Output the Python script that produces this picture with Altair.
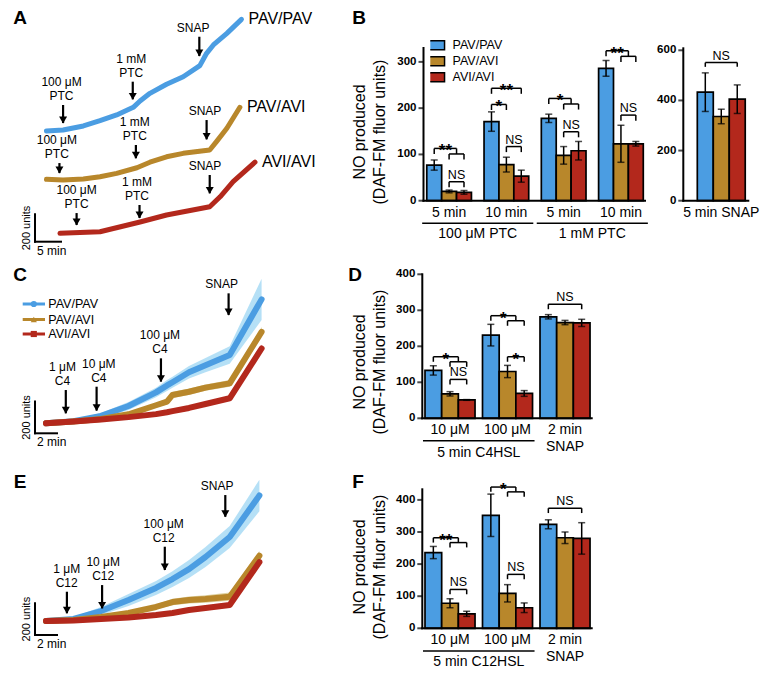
import altair as alt
import pandas as pd

FONT = "Liberation Sans"
SERIES = ["PAV/PAV", "PAV/AVI", "AVI/AVI"]
COLORS = ["#4b9de2", "#b8872b", "#b3281c"]
BAND_COLORS = ["#a8daf4", "#d8c98f", "#f2a8d8"]
LEGEND_SHAPES = ["circle", "triangle-up", "square"]

# ---------------- Panel A : single traces (min, fluorescence units, traces offset) -------------
A_PAVPAV_T = [2.2, 5.4, 9.3, 12.5, 15.7, 18.9, 20.2, 22.1, 25.3, 28.5, 31.7, 33.0, 34.3, 36.9, 39.7]
A_PAVPAV_U = [808, 815, 845, 883, 925, 981, 1027, 1083, 1149, 1204, 1285, 1375, 1436, 1521, 1623]
A_PAVAVI_T = [2.2, 5.4, 9.3, 12.5, 15.7, 19.6, 22.1, 25.3, 28.5, 33.6, 34.9, 36.9, 39.4]
A_PAVAVI_U = [455, 450, 458, 474, 499, 540, 580, 620, 645, 669, 730, 828, 981]
A_AVIAVI_T = [4.8, 12.5, 20.2, 25.3, 33.6, 35.6, 38.1, 42.3]
A_AVIAVI_U = [61, 73, 144, 195, 255, 328, 438, 580]
A_ARROW_T = [5.4, 18.8, 31.6, 4.7, 19.4, 33.0, 8.0, 20.1, 33.6]
A_ARROW_TIP = [866, 1039, 1355, 501, 609, 747, 122, 173, 353]
A_ARROW_TOP = [998, 1168, 1496, 574, 706, 888, 209, 268, 487]
A_LABEL_T = [5.1, 18.5, 30.4, 4.2, 19.2, 32.7, 8.0, 19.6, 32.7]
A_ARROW_LINE1 = ["100 μM", "1 mM", ""] * 3
A_ARROW_LINE2 = ["PTC", "PTC", "SNAP"] * 3
A_SCALEBAR = (5, 200, "5 min")

# ---------------- Panel C : C4HSL mean traces with SEM band ----------------
C_T = [1, 3.5, 6, 8.5, 11, 12, 12.5, 14, 15.5, 17.7, 20.6]
C_PAVPAV = [63, 76, 110, 172, 258, 302, 322, 385, 430, 494, 845]
C_PAVPAV_SEM = [5, 10, 18, 25, 30, 35, 35, 40, 45, 55, 130]
C_PAVAVI = [63, 75, 90, 120, 177, 200, 242, 262, 288, 315, 640]
C_PAVAVI_SEM = [5, 6, 8, 12, 15, 18, 20, 20, 20, 22, 30]
C_AVIAVI = [63, 75, 87, 102, 121, 133, 140, 160, 185, 221, 535]
C_AVIAVI_SEM = [3, 4, 5, 6, 8, 10, 10, 12, 12, 15, 25]
C_ARROW_T = [2.8, 5.6, 11.45, 17.6]
C_ARROW_TIP = [126, 143, 326, 746]
C_ARROW_TOP = [273, 294, 473, 883]
C_LABEL_T = [2.5, 5.8, 11.36, 16.97]
C_ARROW_LINE1 = ["1 μM", "10 μM", "100 μM", ""]
C_ARROW_LINE2 = ["C4", "C4", "C4", "SNAP"]
C_SCALEBAR = (2, 200, "2 min")

# ---------------- Panel E : C12HSL mean traces with SEM band ----------------
E_T = [1, 3.5, 6, 8.5, 11, 12.5, 14, 15.5, 17.7, 20.4]
E_PAVPAV = [88, 101, 151, 221, 297, 353, 416, 492, 618, 880]
E_PAVPAV_SEM = [6, 13, 25, 38, 44, 50, 57, 63, 69, 100]
E_PAVAVI = [88, 95, 114, 139, 177, 208, 221, 227, 242, 500]
E_PAVAVI_SEM = [4, 6, 8, 12, 15, 20, 22, 24, 26, 30]
E_AVIAVI = [88, 91, 101, 110, 126, 139, 158, 170, 189, 460]
E_AVIAVI_SEM = [3, 4, 5, 6, 8, 9, 10, 10, 12, 15]
E_ARROW_T = [2.9, 6.1, 11.8, 17.3]
E_ARROW_TIP = [137, 168, 410, 746]
E_ARROW_TOP = [273, 315, 557, 883]
E_LABEL_T = [2.88, 6.2, 11.7, 16.55]
E_ARROW_LINE1 = ["1 μM", "10 μM", "100 μM", ""]
E_ARROW_LINE2 = ["C12", "C12", "C12", "SNAP"]
E_SCALEBAR = (2, 200, "2 min")

# ---------------- Panel B : NO produced, PTC ----------------
B_GROUPS = ["5 min", "10 min", "5 min", "10 min"]
B_PAVPAV = [77, 171, 178, 286]
B_PAVPAV_ERR = [11, 21, 9, 17]
B_PAVAVI = [20, 78, 98, 123]
B_PAVAVI_ERR = [3, 16, 19, 40]
B_AVIAVI = [18, 53, 108, 123]
B_AVIAVI_ERR = [4, 13, 20, 5]
B_YTICKS = [0, 100, 200, 300]
B_SUB = [("100 μM PTC", 0.5), ("1 mM PTC", 2.5)]
B_BRACKETS = [(0, "nested", 0, 0, 113, "**"), (0, "simple", 1, 2, 41, "NS"),
              (1, "simple", 0, 2, 243, "**"), (1, "simple", 0, 1, 208, "*"),
              (1, "simple", 1, 2, 117, "NS"), (2, "nested", 0, 0, 221, "*"),
              (2, "simple", 1, 2, 149, "NS"), (3, "nested", 0, 0, 324, "**"),
              (3, "simple", 1, 2, 185, "NS")]

SNAP_GROUPS = ["5 min SNAP"]
SNAP_PAVPAV = [433]
SNAP_PAVPAV_ERR = [77]
SNAP_PAVAVI = [336]
SNAP_PAVAVI_ERR = [29]
SNAP_AVIAVI = [405]
SNAP_AVIAVI_ERR = [57]
SNAP_YTICKS = [0, 200, 400, 600]
SNAP_BRACKETS = [(0, "simple", 0, 2, 551, "NS")]

# ---------------- Panel D : C4HSL ----------------
D_GROUPS = ["10 μM", "100 μM", "2 min"]
D_GROUP_LINE2 = [(2, "SNAP")]
D_PAVPAV = [133, 231, 282]
D_PAVPAV_ERR = [13, 30, 6]
D_PAVAVI = [68, 130, 266]
D_PAVAVI_ERR = [6, 17, 6]
D_AVIAVI = [51, 69, 265]
D_AVIAVI_ERR = [1, 8, 10]
D_YTICKS = [0, 100, 200, 300, 400]
D_SUB = [("5 min C4HSL", 0.5)]
D_BRACKETS = [(0, "nested", 0, 0, 171, "*"), (0, "simple", 1, 2, 108, "NS"),
              (1, "nested", 0, 0, 285, "*"), (1, "simple", 1, 2, 171, "*"),
              (2, "simple", 0, 2, 317, "NS")]

# ---------------- Panel F : C12HSL ----------------
F_GROUPS = ["10 μM", "100 μM", "2 min"]
F_GROUP_LINE2 = [(2, "SNAP")]
F_PAVPAV = [236, 352, 324]
F_PAVPAV_ERR = [19, 66, 14]
F_PAVAVI = [78, 109, 282]
F_PAVAVI_ERR = [14, 27, 18]
F_AVIAVI = [45, 64, 280]
F_AVIAVI_ERR = [8, 15, 49]
F_YTICKS = [0, 100, 200, 300, 400]
F_SUB = [("5 min C12HSL", 0.5)]
F_BRACKETS = [(0, "nested", 0, 0, 282, "**"), (0, "simple", 1, 2, 121, "NS"),
              (1, "nested", 0, 0, 440, "*"), (1, "simple", 1, 2, 168, "NS"),
              (2, "simple", 0, 2, 374, "NS")]

YTITLE = ["NO produced", "(DAF-FM fluor units)"]

W, H = 764, 661
CSCALE = alt.Scale(domain=SERIES, range=COLORS)
RECT_PATH = "M-1.6,-0.9H1.6V0.9H-1.6Z"


def lin(domain, rng):
    return alt.Scale(domain=domain, range=rng, nice=False, zero=False)


# ======================= trace panels =======================
def trace_df(times, vals, sems=None):
    rows = []
    for si, s in enumerate(SERIES):
        for k, (t, u) in enumerate(zip(times[si], vals[si])):
            r = dict(series=s, t=t, u=u, k=k)
            if sems is not None:
                r["lo"] = u - sems[si][k]
                r["hi"] = u + sems[si][k]
            rows.append(r)
    return pd.DataFrame(rows)


def trace_panel(df, xs, ys, arrows, scalebar, lw, band=False, end_labels=False):
    def X(f):
        return alt.X(f, scale=xs, axis=None)

    def Y(f):
        return alt.Y(f, scale=ys, axis=None, stack=None)

    layers = []
    if band:
        layers.append(alt.Chart(df).mark_area(opacity=0.85).encode(
            x=X("t:Q"), y=Y("lo:Q"), y2="hi:Q",
            fill=alt.Fill("series:N", scale=alt.Scale(domain=SERIES, range=BAND_COLORS), legend=None)))
    layers.append(alt.Chart(df).mark_line(strokeWidth=lw, strokeJoin="round", strokeCap="round").encode(
        x=X("t:Q"), y=Y("u:Q"), color=alt.Color("series:N", scale=CSCALE, legend=None), order="k:Q"))
    if end_labels:
        last = df.sort_values("k").groupby("series", sort=False).tail(1)
        layers.append(alt.Chart(last).mark_text(font=FONT, fontSize=16, align="left", baseline="middle",
                                                dx=7, color="black").encode(
            x=X("t:Q"), y=Y("u:Q"), text="series:N"))
    adf = pd.DataFrame({"t": arrows[0], "tip": arrows[1], "top": arrows[2], "lt": arrows[3],
                        "l1": arrows[4], "l2": arrows[5]})
    layers.append(alt.Chart(adf).mark_rule(color="black", strokeWidth=2.2).encode(
        x=X("t:Q"), y=Y("top:Q"), y2="tip:Q"))
    layers.append(alt.Chart(adf).mark_point(shape="triangle-down", filled=True, size=64, color="black",
                                            opacity=1, yOffset=-3).encode(x=X("t:Q"), y=Y("tip:Q")))
    layers.append(alt.Chart(adf).mark_text(font=FONT, fontSize=12, baseline="bottom", align="center",
                                           dy=-2, color="black").encode(
        x=X("lt:Q"), y=Y("top:Q"), text="l2:N"))
    layers.append(alt.Chart(adf).mark_text(font=FONT, fontSize=12, baseline="bottom", align="center",
                                           dy=-16, color="black").encode(
        x=X("lt:Q"), y=Y("top:Q"), text="l1:N"))
    sb_t, sb_u, sb_lab = scalebar
    sbdf = pd.DataFrame({"x": [0, 0], "x2": [0, sb_t], "y": [0, 0], "y2": [sb_u, 0]})
    layers.append(alt.Chart(sbdf).mark_rule(color="black", strokeWidth=2, strokeCap="square").encode(
        x=X("x:Q"), x2="x2:Q", y=Y("y:Q"), y2="y2:Q"))
    sbt = pd.DataFrame({"x": [0], "y": [sb_u / 2], "lab": [f"{sb_u} units"]})
    layers.append(alt.Chart(sbt).mark_text(font=FONT, fontSize=11, angle=270, baseline="bottom",
                                           align="center", dy=-3, color="black").encode(
        x=X("x:Q"), y=Y("y:Q"), text="lab:N"))
    sbt2 = pd.DataFrame({"x": [0], "y": [0], "lab": [sb_lab]})
    layers.append(alt.Chart(sbt2).mark_text(font=FONT, fontSize=12, align="left", baseline="top",
                                            dx=2, dy=4, color="black").encode(
        x=X("x:Q"), y=Y("y:Q"), text="lab:N"))
    return alt.layer(*layers)


# ======================= bar panels =======================
def bar_panel(vals, errs, w, xdom, xrng, ydom, yrng, groups, yticks, brackets, d, legend=None,
              sub=None, sub_y=None, line2=None, line2_y=None, title_y=None):
    xs, ys = lin(xdom, xrng), lin(ydom, yrng)
    rows = []
    for si, s in enumerate(SERIES):
        for gi, (v, e) in enumerate(zip(vals[si], errs[si])):
            pos = gi + (si - 1) * w
            rows.append(dict(series=s, v=v, zero=0, lo=v - e, hi=v + e, pos=pos,
                             x0=pos - w / 2, x1=pos + w / 2))
    df = pd.DataFrame(rows)

    def X(f):
        return alt.X(f, scale=xs, axis=None)

    def Y(f):
        return alt.Y(f, scale=ys, axis=None)

    layers = [
        alt.Chart(df).mark_bar(stroke="black", strokeWidth=1.7).encode(
            x=X("x0:Q"), x2="x1:Q", y=Y("v:Q"), y2="zero:Q",
            color=alt.Color("series:N", scale=CSCALE, legend=legend)),
        alt.Chart(df).mark_rule(color="black", strokeWidth=1.5).encode(x=X("pos:Q"), y=Y("lo:Q"), y2="hi:Q"),
        alt.Chart(df).mark_tick(color="black", orient="horizontal", size=7, thickness=1.5).encode(
            x=X("pos:Q"), y=Y("lo:Q")),
        alt.Chart(df).mark_tick(color="black", orient="horizontal", size=7, thickness=1.5).encode(
            x=X("pos:Q"), y=Y("hi:Q")),
    ]
    # ---- axes drawn through the panel scales ----
    adf = pd.DataFrame({"x0": [xdom[0]], "x1": [xdom[1]], "y0": [0], "y1": [ydom[1]]})
    layers.append(alt.Chart(adf).mark_rule(color="black", strokeWidth=2, strokeCap="square").encode(
        x=X("x0:Q"), y=Y("y0:Q"), y2="y1:Q"))
    layers.append(alt.Chart(adf).mark_rule(color="black", strokeWidth=2, strokeCap="square").encode(
        x=X("x0:Q"), x2="x1:Q", y=Y("y0:Q")))
    tdf = pd.DataFrame({"x": [xdom[0]] * len(yticks), "y": yticks, "lab": [str(t) for t in yticks]})
    layers.append(alt.Chart(tdf).mark_tick(color="black", orient="horizontal", size=5, thickness=2,
                                           xOffset=-2.5).encode(x=X("x:Q"), y=Y("y:Q")))
    layers.append(alt.Chart(tdf).mark_text(font=FONT, fontSize=11.5, fontWeight="bold", align="right",
                                           baseline="middle", dx=-7, color="black").encode(
        x=X("x:Q"), y=Y("y:Q"), text="lab:N"))
    gdf = pd.DataFrame({"g": list(range(len(groups))), "y": [0] * len(groups), "lab": groups})
    layers.append(alt.Chart(gdf).mark_text(font=FONT, fontSize=14, align="center", baseline="top",
                                           dy=5, color="black").encode(
        x=X("g:Q"), y=Y("y:Q"), text="lab:N"))
    if title_y is not None:
        for line, xpx in zip(YTITLE, [352, 372]):
            layers.append(alt.Chart(pd.DataFrame({"lab": [line]})).mark_text(
                font=FONT, fontSize=16, angle=270, align="center", baseline="middle", color="black").encode(
                x=alt.value(xpx), y=alt.value(title_y), text="lab:N"))
    # ---- significance brackets ----
    segs, labs = [], []
    for g, kind, i, j, h, lab in brackets:
        def c(s):
            return g + (s - 1) * w
        if kind == "nested":
            a, b1, b2 = c(0), c(1), c(2)
            m = (b1 + b2) / 2
            segs += [(a, m, h, h), (a, a, h, h - d), (m, m, h, h - d), (b1, b2, h - d, h - d),
                     (b1, b1, h - d, h - 2 * d), (b2, b2, h - d, h - 2 * d)]
            labs.append((lab, (a + m) / 2, h))
        else:
            a, b = c(i), c(j)
            segs += [(a, b, h, h), (a, a, h, h - d), (b, b, h, h - d)]
            labs.append((lab, (a + b) / 2, h))
    sdf = pd.DataFrame(segs, columns=["x", "x2", "y", "y2"])
    ldf = pd.DataFrame(labs, columns=["lab", "x", "y"])
    layers.append(alt.Chart(sdf).mark_rule(color="black", strokeWidth=1.5).encode(
        x=X("x:Q"), x2="x2:Q", y=Y("y:Q"), y2="y2:Q"))
    layers.append(alt.Chart(ldf).transform_filter("datum.lab != 'NS'").mark_text(
        font=FONT, fontSize=17, fontWeight="bold", baseline="alphabetic", dy=8, color="black").encode(
        x=X("x:Q"), y=Y("y:Q"), text="lab:N"))
    layers.append(alt.Chart(ldf).transform_filter("datum.lab == 'NS'").mark_text(
        font=FONT, fontSize=12.5, baseline="alphabetic", dy=-3, color="black").encode(
        x=X("x:Q"), y=Y("y:Q"), text="lab:N"))
    if sub:
        half = 0.97
        udf = pd.DataFrame({"lab": [s[0] for s in sub], "c": [s[1] for s in sub],
                            "c0": [s[1] - half for s in sub], "c1": [s[1] + half for s in sub]})
        layers.append(alt.Chart(udf).mark_rule(color="black", strokeWidth=1.5).encode(
            x=X("c0:Q"), x2="c1:Q", y=alt.value(sub_y[0])))
        layers.append(alt.Chart(udf).mark_text(font=FONT, fontSize=14, baseline="middle", color="black").encode(
            x=X("c:Q"), y=alt.value(sub_y[1]), text="lab:N"))
    if line2:
        l2df = pd.DataFrame({"g": [p[0] for p in line2], "lab": [p[1] for p in line2]})
        layers.append(alt.Chart(l2df).mark_text(font=FONT, fontSize=14, baseline="middle", color="black").encode(
            x=X("g:Q"), y=alt.value(line2_y), text="lab:N"))
    return alt.layer(*layers)


# ---- build panels (chart coordinates, plot area = whole figure) ----
panelA = trace_panel(
    trace_df([A_PAVPAV_T, A_PAVAVI_T, A_AVIAVI_T], [A_PAVPAV_U, A_PAVAVI_U, A_AVIAVI_U]),
    lin([0, 45], [27, 261]), lin([0, 1700], [233.7, 0.8]),
    (A_ARROW_T, A_ARROW_TIP, A_ARROW_TOP, A_LABEL_T, A_ARROW_LINE1, A_ARROW_LINE2), A_SCALEBAR, 5,
    end_labels=True)

panelC = trace_panel(
    trace_df([C_T] * 3, [C_PAVPAV, C_PAVAVI, C_AVIAVI], [C_PAVPAV_SEM, C_PAVAVI_SEM, C_AVIAVI_SEM]),
    lin([0, 22], [27, 269]), lin([0, 1000], [425.3, 266.8]),
    (C_ARROW_T, C_ARROW_TIP, C_ARROW_TOP, C_LABEL_T, C_ARROW_LINE1, C_ARROW_LINE2), C_SCALEBAR, 6, band=True)

panelE = trace_panel(
    trace_df([E_T] * 3, [E_PAVPAV, E_PAVAVI, E_AVIAVI], [E_PAVPAV_SEM, E_PAVAVI_SEM, E_AVIAVI_SEM]),
    lin([0, 22], [27, 269]), lin([0, 1000], [627, 468.5]),
    (E_ARROW_T, E_ARROW_TIP, E_ARROW_TOP, E_LABEL_T, E_ARROW_LINE1, E_ARROW_LINE2), E_SCALEBAR, 6, band=True)

# key of panel C (line + marker)
LEG_C = pd.DataFrame({"series": SERIES, "ly": [296, 311.5, 326]})
legC_scale = alt.Scale(domain=SERIES, range=COLORS)
legendC = alt.layer(
    alt.Chart(LEG_C).mark_rule(strokeWidth=3).encode(
        x=alt.value(14.7), x2=alt.value(37), y=alt.Y("ly:Q", scale=None, axis=None),
        color=alt.Color("series:N", scale=legC_scale, legend=None)),
    alt.Chart(LEG_C).mark_point(filled=True, opacity=1, size=38).encode(
        x=alt.value(25.8), y=alt.Y("ly:Q", scale=None, axis=None),
        color=alt.Color("series:N", scale=legC_scale, legend=None),
        shape=alt.Shape("series:N", scale=alt.Scale(domain=SERIES, range=LEGEND_SHAPES), legend=None)),
    alt.Chart(LEG_C).mark_text(font=FONT, fontSize=12.5, align="left", baseline="middle", color="black").encode(
        x=alt.value(40.3), y=alt.Y("ly:Q", scale=None, axis=None), text="series:N"),
)

b_legend = alt.Legend(orient="none", legendX=422.3, legendY=31.5, title=None, symbolType=RECT_PATH,
                      symbolSize=100, symbolStrokeColor="black", symbolStrokeWidth=1.5, labelOffset=9.7,
                      rowPadding=2, clipHeight=11.5, labelFont=FONT, labelFontSize=12.5, labelColor="black",
                      padding=0, symbolOpacity=1)
panelB = bar_panel(
    [B_PAVPAV, B_PAVAVI, B_AVIAVI], [B_PAVPAV_ERR, B_PAVAVI_ERR, B_AVIAVI_ERR], 0.26,
    [-0.447, 3.42], [415.5, 637], [0, 330], [192.7, 40], B_GROUPS, B_YTICKS,
    B_BRACKETS, 12, legend=b_legend, sub=B_SUB, sub_y=(215.3, 226), title_y=124)

panelBs = bar_panel(
    [SNAP_PAVPAV, SNAP_PAVAVI, SNAP_AVIAVI], [SNAP_PAVPAV_ERR, SNAP_PAVAVI_ERR, SNAP_AVIAVI_ERR], 0.26,
    [-0.618, 0.44], [675.3, 740.3], [0, 608], [192.7, 40.3], SNAP_GROUPS, SNAP_YTICKS,
    SNAP_BRACKETS, 17)

panelD = bar_panel(
    [D_PAVPAV, D_PAVAVI, D_AVIAVI], [D_PAVPAV_ERR, D_PAVAVI_ERR, D_AVIAVI_ERR], 0.29,
    [-0.482, 2.464], [414.3, 583.7], [0, 400], [410.3, 266.3], D_GROUPS, D_YTICKS,
    D_BRACKETS, 14, sub=D_SUB, sub_y=(432.7, 445.3), line2=D_GROUP_LINE2, line2_y=438.7, title_y=354)

panelF = bar_panel(
    [F_PAVPAV, F_PAVAVI, F_AVIAVI], [F_PAVPAV_ERR, F_PAVAVI_ERR, F_AVIAVI_ERR], 0.29,
    [-0.482, 2.464], [414.3, 583.7], [0, 433], [620.3, 481.3], F_GROUPS, F_YTICKS,
    F_BRACKETS, 15, sub=F_SUB, sub_y=(643, 653.7), line2=F_GROUP_LINE2, line2_y=649.3, title_y=559)

DUMMY = pd.DataFrame({"a": [0]})
letters = [
    alt.Chart(DUMMY).mark_text(text=t, font=FONT, fontSize=19, fontWeight="bold", align="center",
                               baseline="middle", color="black").encode(x=alt.value(x), y=alt.value(y))
    for t, x, y in [("A", 12, 10), ("B", 351, 10), ("C", 12, 267), ("D", 347, 267),
                    ("E", 12, 474), ("F", 350, 474)]
]

chart = alt.layer(panelA, panelB, panelBs, panelC, panelD, panelE, panelF, legendC, *letters).resolve_scale(
    x="independent", y="independent", color="independent", fill="independent", shape="independent"
).resolve_legend(
    color="independent", shape="independent", fill="independent"
).properties(
    width=W, height=H, padding=0, autosize=alt.AutoSizeParams(type="none")
).configure_view(stroke=None)

chart.save("out.html", embed_options={"renderer": "svg", "actions": False})
